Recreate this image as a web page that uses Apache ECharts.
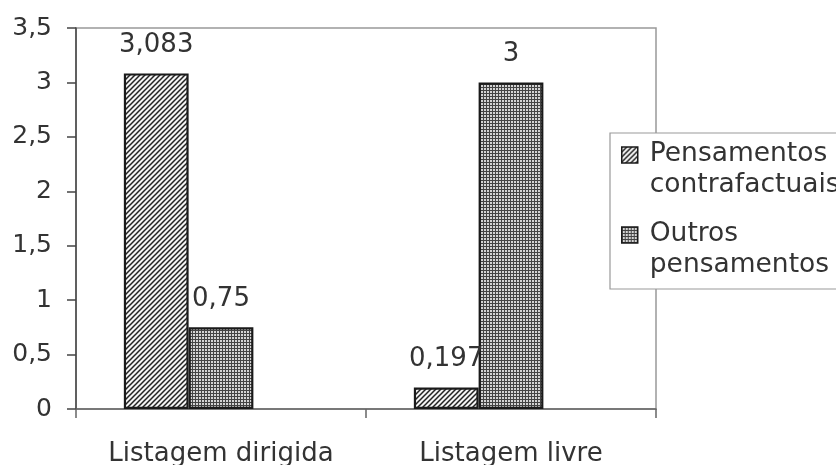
<!DOCTYPE html>
<html>
<head>
<meta charset="utf-8">
<script src="https://cdn.jsdelivr.net/npm/echarts@6/dist/echarts.min.js"></script>
<style>
html,body{margin:0;padding:0;background:#fff;}
#chart{width:836px;height:465px;}
</style>
</head>
<body>
<div id="chart"></div>
<script>
const categories = ['Listagem dirigida', 'Listagem livre'];
const seriesNames = ['Pensamentos\ncontrafactuais', 'Outros\npensamentos'];
const contrafactuais = [3.083, 0.197];
const outros = [0.75, 3];
const yTicks = { min: 0, max: 3.5, interval: 0.5 };

function hatchPattern() {
  const c = document.createElement('canvas');
  c.width = 5; c.height = 5;
  const g = c.getContext('2d');
  g.fillStyle = '#f4f4f4'; g.fillRect(0, 0, 5, 5);
  g.strokeStyle = '#222'; g.lineWidth = 1.5;
  g.beginPath();
  g.moveTo(-1, 6); g.lineTo(6, -1);
  g.moveTo(-1, 1); g.lineTo(1, -1);
  g.moveTo(4, 6); g.lineTo(6, 4);
  g.stroke();
  return c;
}
function gridPattern() {
  const c = document.createElement('canvas');
  c.width = 3; c.height = 3;
  const g = c.getContext('2d');
  g.fillStyle = '#d4d4d4'; g.fillRect(0, 0, 3, 3);
  g.fillStyle = '#444';
  g.fillRect(0, 0, 3, 1);
  g.fillRect(0, 0, 1, 3);
  return c;
}

const FONT = 'DejaVu Sans';
const fmt = v => String(v).replace('.', ',');

const chart = echarts.init(document.getElementById('chart'), null, { renderer: 'canvas' });

const labelOpt = {
  show: true, position: 'top', distance: 15,
  fontFamily: FONT, fontSize: 26, color: '#333',
  formatter: p => fmt(p.value)
};
const barBorder = { borderColor: '#1a1a1a', borderWidth: 2.2 };

chart.setOption({
  animation: false,
  backgroundColor: '#fff',
  grid: {
    left: 76, right: 180, top: 28, bottom: 56,
    outerBoundsMode: 'none', containLabel: false,
    show: true, borderColor: '#999', borderWidth: 1.5, backgroundColor: '#fff'
  },
  legend: {
    orient: 'vertical',
    left: 610, top: 133,
    data: seriesNames,
    backgroundColor: '#fff',
    borderColor: '#999', borderWidth: 1.2, borderRadius: 0,
    padding: [6, 40, 8, 11],
    itemGap: 18,
    itemWidth: 16, itemHeight: 46,
    icon: 'path://M0,0h16v16h-16z M0,46',
    itemStyle: { borderWidth: 1.5, borderColor: '#1a1a1a' },
    textStyle: { fontFamily: FONT, fontSize: 26.5, color: '#333', lineHeight: 31, padding: [0, 0, 0, 7] }
  },
  xAxis: {
    type: 'category',
    data: categories,
    axisLine: { lineStyle: { color: '#666', width: 1.5 } },
    axisTick: { show: true, length: 9, lineStyle: { color: '#666', width: 1.5 } },
    axisLabel: { interval: 0, fontFamily: FONT, fontSize: 26, color: '#333', margin: 32 }
  },
  yAxis: {
    type: 'value',
    min: yTicks.min, max: yTicks.max, interval: yTicks.interval,
    axisLine: { show: true, lineStyle: { color: '#444', width: 1.5 } },
    axisTick: { show: true, length: 9, lineStyle: { color: '#444', width: 1.5 } },
    splitLine: { show: false },
    axisLabel: { fontFamily: FONT, fontSize: 25, color: '#333', margin: 24, formatter: v => fmt(v) }
  },
  series: [
    {
      name: seriesNames[0], type: 'bar', data: contrafactuais,
      barGap: '0%', barCategoryGap: '33%',
      itemStyle: Object.assign({ color: { image: hatchPattern(), repeat: 'repeat' } }, barBorder),
      label: labelOpt
    },
    {
      name: seriesNames[1], type: 'bar', data: outros,
      barGap: '0%', barCategoryGap: '33%',
      itemStyle: Object.assign({ color: { image: gridPattern(), repeat: 'repeat' } }, barBorder),
      label: labelOpt
    },
    {
      name: 'spacer', type: 'bar', data: ['-', '-'],
      barGap: '0%', barCategoryGap: '33%', silent: true,
      itemStyle: { color: 'transparent' }
    }
  ]
});
</script>
</body>
</html>
